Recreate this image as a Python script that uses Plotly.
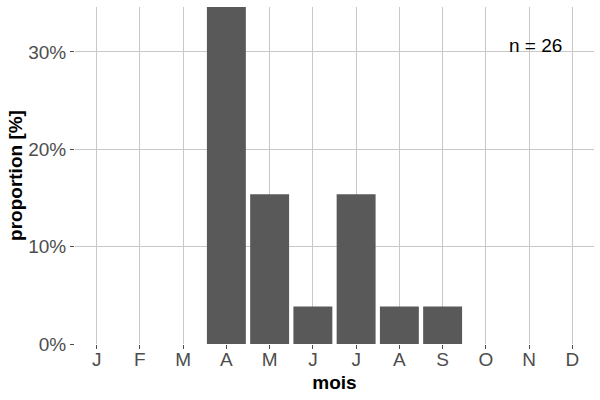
import plotly.graph_objects as go

months = ['J', 'F', 'M', 'A', 'M', 'J', 'J', 'A', 'S', 'O', 'N', 'D']
counts = [0, 0, 0, 9, 4, 1, 4, 1, 1, 0, 0, 0]
n_total = 26
proportions = [c / n_total for c in counts]
y_ticks = [0, 0.1, 0.2, 0.3]
y_tick_labels = ['0%', '10%', '20%', '30%']

positions = list(range(len(months)))

trace = go.Bar(
    x=positions,
    y=proportions,
    width=0.9,
    marker=dict(color='#595959', line=dict(width=0)),
    showlegend=False,
)

layout = go.Layout(
    width=600, height=400,
    plot_bgcolor='white', paper_bgcolor='white',
    margin=dict(l=75, r=6, t=7, b=56),
    font=dict(family='Liberation Sans, Arial, sans-serif', color='#4D4D4D', size=19),
    xaxis=dict(
        tickmode='array', tickvals=positions, ticktext=months,
        range=[-0.5, 11.5],
        showgrid=True, gridcolor='#C8C8C8', gridwidth=1,
        ticks='outside', ticklen=4, tickcolor='#4D4D4D',
        ticklabelstandoff=-6,
        zeroline=False, showline=False, automargin=False,
        title=dict(text='<b>mois</b>', font=dict(size=19, color='black'), standoff=6),
    ),
    yaxis=dict(
        tickmode='array', tickvals=y_ticks, ticktext=y_tick_labels,
        range=[0, max(proportions)],
        showgrid=True, gridcolor='#C8C8C8', gridwidth=1,
        ticks='outside', ticklen=4, tickcolor='#4D4D4D',
        zeroline=False, showline=False, automargin=False,
        title=dict(text='<b>proportion [%]</b>', font=dict(size=19, color='black'), standoff=0),
    ),
    annotations=[dict(
        x=10.15, y=0.307, xref='x', yref='y',
        text=f'n = {n_total}', showarrow=False,
        font=dict(size=19, color='black'),
    )],
)

fig = go.Figure(data=[trace], layout=layout)
fig.write_html('out.html', config={'displayModeBar': False},
               post_script="document.body.style.margin='0';")
